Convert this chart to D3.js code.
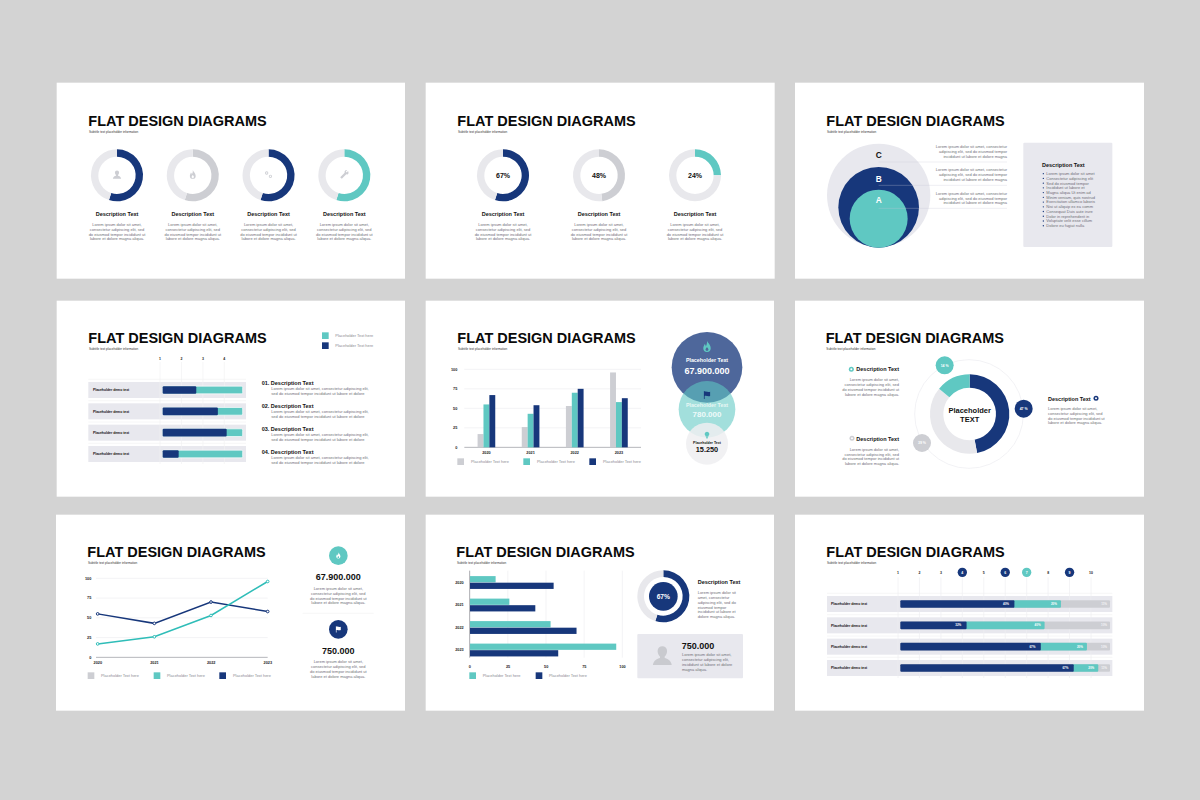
<!DOCTYPE html>
<html><head><meta charset="utf-8">
<script src="https://cdn.jsdelivr.net/npm/d3@7"></script>
<style>html,body{margin:0;padding:0;background:#d3d3d3}svg{display:block}text{font-family:"Liberation Sans",Arial,sans-serif}</style>
</head><body><svg id="c" width="1200" height="800"></svg>
<script>
// ---------- data ----------
const years = ["2020","2021","2022","2023"];
const seriesGray = [17,26,53,96];
const seriesTeal = [55,43,70,58];
const seriesNavy = [67,54,75,63];
const lineTeal = [17,26,53,96];
const lineNavy = [55,43,70,58];
const hbarTeal = [17,26,53,96];
const hbarNavy = [55,43,70,58];
const valueTicks = [0,25,50,75,100];
const iconDonutValues = [55,55,55,55];
const pctDonutValues = [55,48,25];
const pctDonutLabels = ["67%","48%","24%"];
const stackA = [42,69,80,20];
const stackLabels = ["Placeholder demo text","Placeholder demo text","Placeholder demo text","Placeholder demo text"];
const rankTicks = [1,2,3,4];
const timelineTicks = [1,2,3,4,5,6,7,8,9,10];
const timelineNavy = [4,6,9];
const timelineTeal = [7];
const tlNavy = [54.4,31.6,67,82.7];
const tlTeal = [22.2,37.2,22,11.7];
const tlGray = [23.4,31.2,11,5.6];
const tlNavyText = ["40%","32%","67%","67%"];
const tlTealText = ["20%","40%","20%","20%"];
const tlGrayText = ["11%","10%","10%","11%"];
const ringValues = [47,39,14];
const ringLabels = ["47 %","39 %","14 %"];
const bulletItems = ["Lorem ipsum dolor sit amet","Consectetur adipiscing elit","Sed do eiusmod tempor","Incididunt ut labore et","Magna aliqua Ut enim ad","Minim veniam, quis nostrud","Exercitation ullamco laboris","Nisi ut aliquip ex ea comm","Consequat Duis aute irure","Dolor in reprehenderit in","Voluptate velit esse cillum","Dolore eu fugiat nulla"];
const para4 = ["Lorem ipsum dolor sit amet,","consectetur adipiscing elit, sed","do eiusmod tempor incididunt ut","labore et dolore magna aliqua."];
const para3 = ["Lorem ipsum dolor sit amet, consectetur","adipiscing elit, sed do eiusmod tempor","incididunt ut labore et dolore magna"];
const para2 = ["Lorem ipsum dolor sit amet, consectetur adipiscing elit,","sed do eiusmod tempor incididunt ut labore et dolore"];
const para6 = ["Lorem ipsum dolor sit","amet, consectetur","adipiscing elit, sed do","eiusmod tempor","incididunt ut labore et","dolore magna aliqua."];
const para4b = ["Lorem ipsum dolor sit amet,","consectetur adipiscing elit,","incididunt ut labore et dolore","magna aliqua."];
const TITLE = "FLAT DESIGN DIAGRAMS", SUB = "Subtitle text placeholder information", DESC = "Description Text", LEG = "Placeholder Text here";

// ---------- style ----------
const NAVY="#17377b",TEAL="#5fc8c2",GRAY="#cdced3",RING="#e8e8ec",BAND="#e8e8ee",TXT="#6f6f78",GRID="#f1f1f3";
const ICON={
 flame:"M12 1c1 4 7 7 7 14a7 7 0 0 1-14 0c0-3 2-5 2.5-8 1.5 1 2.2 2.5 2.2 4.5C11.500 9 12.500 5 12 1zM12 13c-1.600 1.700-2.800 2.800-2.800 4.500a2.800 2.800 0 0 0 5.600 0c0-1.700-1.200-2.800-2.800-4.500z",
 flag:"M4 2h2v1.500c4-2 8 2 14 0v11c-6 2-10-2-14 0V22H4z",
 bulb:"M12 2a7 7 0 0 1 4 12.700V17H8v-2.300A7 7 0 0 1 12 2zM9 18h6v2H9zM10 21h4v1.500h-4z",
 user:"M12 2a5 5 0 0 1 5 5c0 3-1.500 5-2.500 6v1.500c3 1 6.500 2 7.500 7.500H2c1-5.500 4.500-6.500 7.500-7.500V13C8.500 12 7 10 7 7a5 5 0 0 1 5-5z",
 gears:"M7.500 4a4 4 0 1 1 0 8a4 4 0 1 1 0-8zM7.500 6a2 2 0 1 0 0 4a2 2 0 1 0 0-4zM16.500 12a4 4 0 1 1 0 8a4 4 0 1 1 0-8zM16.500 14a2 2 0 1 0 0 4a2 2 0 1 0 0-4z",
 wrench:"M21 3l-3.500 3.500-2-2L19 1c-3-1-6.500 1-6.500 4.500 0 .8.100 1.300.300 1.800L2 18l4 4L16.700 11.200c.5.200 1 .300 1.800.300C22 11.500 23 7 21 3z"
};
const svg=d3.select("#c");
svg.append("rect").attr("width",1200).attr("height",800).attr("fill","#d3d3d3");

function panel(ox,oy,x0,y0,x1,y1,tx,ty){
  const g=svg.append("g").attr("transform",`translate(${ox},${oy}) scale(${1/3})`);
  g.append("rect").attr("x",x0).attr("y",y0).attr("width",x1-x0).attr("height",y1-y0).attr("fill","#fff");
  txt(g,tx,ty,TITLE,{size:45,weight:"bold",fill:"#0a0a0a",base:true}).attr("textLength",535).attr("lengthAdjust","spacingAndGlyphs");
  txt(g,tx+2,ty+18,SUB,{size:9.300,fill:"#333"});
  return g;
}
function txt(g,x,y,s,o={}){
  const t=g.append("text").attr("x",x).attr("y",y).text(s)
   .attr("font-size",o.size||12).attr("fill",o.fill||TXT)
   .attr("text-anchor",o.anchor||"start").attr("font-weight",o.weight||"normal");
  if(!o.base) t.attr("dy",".35em");
  if(o.opacity) t.attr("opacity",o.opacity);
  return t;
}
function para(g,x,y,lines,anchor,step=14.300,size){
  lines.forEach((l,i)=>txt(g,x,y+i*step,l,{anchor,size}));
}
function head(g,x,y,s,anchor){return txt(g,x,y,s,{size:16.500,weight:"bold",fill:"#111",anchor});}
function icon(g,name,cx,cy,size,fill){
  const k=size/24;
  g.append("path").attr("d",ICON[name]).attr("fill",fill).attr("fill-rule","evenodd")
   .attr("transform",`translate(${cx-size/2},${cy-size/2}) scale(${k})`);
}
function ring(g,cx,cy,values,colors,r0,r1){
  const pie=d3.pie().sort(null).value(d=>d);
  const arc=d3.arc().innerRadius(r0).outerRadius(r1);
  g.append("g").attr("transform",`translate(${cx},${cy})`).selectAll("path").data(pie(values)).join("path")
   .attr("d",arc).attr("fill",(d,i)=>colors[i]);
}
function legend(g,items){
  items.forEach(it=>{
    g.append("rect").attr("x",it.x).attr("y",it.y).attr("width",20).attr("height",20).attr("fill",it.c);
    txt(g,it.x+it.dx,it.y+10.500,LEG,{size:11.800,fill:"#8a8a92"});
  });
}
function styleAxis(a,size=11.500){
  a.select(".domain").remove();
  a.selectAll(".tick line").remove();
  a.selectAll("text").attr("font-size",size).attr("font-weight","bold").attr("fill","#222").attr("font-family",'"Liberation Sans"');
}

// ---------- panel 1 ----------
{
 const g=panel(56,82,2,2,1047,590,97,131);
 const cx=d3.scalePoint().domain(d3.range(4)).range([183,865]);
 const cols=[NAVY,GRAY,NAVY,TEAL], ics=["user","flame","gears","wrench"];
 iconDonutValues.forEach((v,i)=>{
  ring(g,cx(i),280,[v,100-v],[cols[i],RING],56,78);
  icon(g,ics[i],cx(i),278,30,GRAY);
  txt(g,cx(i),397,DESC,{size:16.500,weight:"bold",fill:"#111",anchor:"middle"});
  para(g,cx(i),428,para4,"middle");
 });
}
// ---------- panel 2 ----------
{
 const g=panel(425,82,2,2,1049,590,97,131);
 const cx=d3.scalePoint().domain(d3.range(3)).range([234,810]);
 const cols=[NAVY,GRAY,TEAL];
 pctDonutValues.forEach((v,i)=>{
  ring(g,cx(i),280,[v,100-v],[cols[i],RING],56,78);
  txt(g,cx(i),280,pctDonutLabels[i],{size:21,weight:"bold",fill:"#111",anchor:"middle"});
  txt(g,cx(i),397,DESC,{size:16.500,weight:"bold",fill:"#111",anchor:"middle"});
  para(g,cx(i),428,para4,"middle");
 });
}
// ---------- panel 3 ----------
{
 const g=panel(795,82,0,2,1047,590,94,131);
 [[340,155,BAND],[376,121,NAVY],[410,87,TEAL]].forEach(c=>
  g.append("circle").attr("cx",251).attr("cy",c[0]).attr("r",c[1]).attr("fill",c[2]));
 [["C",220,"#111"],["B",292,"#fff"],["A",355,"#fff"]].forEach(l=>
  txt(g,251,l[1],l[0],{size:25,weight:"bold",fill:l[2],anchor:"middle"}));
 [[240,194],[310,264],[379,334]].forEach(r=>{
  g.append("line").attr("x1",251).attr("x2",636).attr("y1",r[0]).attr("y2",r[0]).attr("stroke","#c8c8d6").attr("stroke-opacity",.45).attr("stroke-width",2);
  para(g,636,r[1],para3,"end");
 });
 g.append("rect").attr("x",685).attr("y",182).attr("width",267).attr("height",313).attr("rx",3).attr("fill",BAND);
 head(g,741,248,DESC);
 bulletItems.forEach((s,i)=>{
  g.append("circle").attr("cx",745).attr("cy",275+i*14.200).attr("r",2).attr("fill",NAVY);
  txt(g,754,275+i*14.200,s);
 });
}
// ---------- panel 4 ----------
{
 const g=panel(56,300,2,2,1047,590,97,130);
 legend(g,[{x:798,y:97,c:TEAL,dx:40},{x:798,y:127,c:NAVY,dx:40}]);
 const y=d3.scaleBand().domain(d3.range(4)).range([238,494]).paddingInner(.25).paddingOuter(.125);
 const xr=d3.scaleLinear().domain([1,4]).range([312,505]);
 const x=d3.scaleLinear().domain([0,100]).range([320,560]);
 y.domain().forEach(i=>{
  g.append("line").attr("x1",97).attr("x2",570).attr("y1",y(i)-8).attr("y2",y(i)-8).attr("stroke",GRID).attr("stroke-width",2);
  g.append("rect").attr("x",97).attr("y",y(i)).attr("width",473).attr("height",y.bandwidth()).attr("fill",BAND);
 });
 rankTicks.forEach(t=>{
  g.append("line").attr("x1",xr(t)).attr("x2",xr(t)).attr("y1",186).attr("y2",492).attr("stroke",GRID).attr("stroke-width",2);
  txt(g,xr(t),175,t,{size:10.500,weight:"bold",fill:"#222",anchor:"middle"});
 });
 stackA.forEach((v,i)=>{
  const by=y(i)+y.bandwidth()/2-11.500;
  g.append("rect").attr("x",x(0)).attr("y",by).attr("width",x(100)-x(0)).attr("height",23).attr("rx",4).attr("fill",TEAL).attr("stroke","#fff").attr("stroke-width",2);
  g.append("rect").attr("x",x(0)).attr("y",by).attr("width",x(v)-x(0)).attr("height",23).attr("rx",3).attr("fill",NAVY);
  txt(g,111,y(i)+y.bandwidth()/2,stackLabels[i],{size:10.200,weight:"bold",fill:"#111"});
  const hy=249+i*69.300;
  head(g,617,hy,"0"+(i+1)+". "+DESC);
  para(g,646,hy+17,para2,"start");
 });
}
// ---------- panel 5 ----------
{
 const g=panel(425,300,2,2,1047,590,97,130);
 const y=d3.scaleLinear().domain([0,100]).range([442,208]);
 const x=d3.scaleBand().domain(years).range([118,648]).paddingInner(.6).paddingOuter(.3);
 const x1=d3.scaleBand().domain(["gray","teal","navy"]).range([0,x.bandwidth()]);
 valueTicks.forEach(t=>g.append("line").attr("x1",118).attr("x2",648).attr("y1",y(t)).attr("y2",y(t)).attr("stroke",t?GRID:"#b5b6bb").attr("stroke-width",t?2.500:3));
 [["gray",seriesGray,GRAY],["teal",seriesTeal,TEAL],["navy",seriesNavy,NAVY]].forEach(s=>{
  g.selectAll(null).data(s[1]).join("rect").attr("x",(d,i)=>x(years[i])+x1(s[0])).attr("y",d=>y(d))
   .attr("width",x1.bandwidth()).attr("height",d=>y(0)-y(d)).attr("fill",s[2]);
 });
 g.append("g").attr("transform","translate(106,0)").call(d3.axisLeft(y).tickValues(valueTicks)).call(a=>styleAxis(a));
 g.append("g").attr("transform","translate(0,444)").call(d3.axisBottom(x)).call(a=>styleAxis(a));
 legend(g,[{x:97,y:475,c:GRAY,dx:41},{x:295,y:475,c:TEAL,dx:41},{x:493,y:475,c:NAVY,dx:41}]);
 const bub=[[202,106,NAVY,.76],[328,85,TEAL,.58],[431,63,"#eeeef1",.85]];
 bub.forEach(b=>g.append("circle").attr("cx",846).attr("cy",b[0]).attr("r",b[1]).attr("fill",b[2]).attr("fill-opacity",b[3]));
 icon(g,"flame",846,140,38,TEAL);
 icon(g,"flag",846,285,28,NAVY);
 icon(g,"bulb",846,405,24,TEAL);
 txt(g,846,181,"Placeholder Text",{size:16,weight:"bold",fill:"#fff",anchor:"middle"});
 txt(g,846,213,"67.900.000",{size:27,weight:"bold",fill:"#fff",anchor:"middle"});
 txt(g,846,315,"Placeholder Text",{size:16,weight:"bold",fill:"#e8f7f5",anchor:"middle"});
 txt(g,846,343,"780.000",{size:24,weight:"bold",fill:"#eefafa",anchor:"middle"});
 txt(g,846,427,"Placeholder Text",{size:10.500,weight:"bold",fill:"#111",anchor:"middle"});
 txt(g,846,449,"15.250",{size:22,weight:"bold",fill:"#111",anchor:"middle"});
}
// ---------- panel 6 ----------
{
 const g=panel(795,300,0,2,1047,590,92,129);
 g.append("circle").attr("cx",522).attr("cy",342).attr("r",163).attr("fill","none").attr("stroke","#ececf0").attr("stroke-width",2);
 ring(g,524,342,ringValues,[NAVY,RING,TEAL],79,119);
 const bubbles=[[686,326,NAVY,0],[381,429,GRAY,1],[449,196,TEAL,2]];
 bubbles.forEach(b=>{
  g.append("circle").attr("cx",b[0]).attr("cy",b[1]).attr("r",27).attr("fill",b[2]);
  txt(g,b[0],b[1],ringLabels[b[3]],{size:10.500,weight:"bold",fill:"#fff",anchor:"middle"});
 });
 txt(g,524,332,"Placeholder",{size:22.500,weight:"bold",fill:"#111",anchor:"middle"});
 txt(g,524,357,"TEXT",{size:22.500,weight:"bold",fill:"#111",anchor:"middle"});
 head(g,312,208,DESC,"end"); para(g,312,240,para4,"end");
 head(g,312,416,DESC,"end"); para(g,312,448,para4,"end");
 head(g,759,296,DESC); para(g,759,326,para4,"start");
 [[169,208,TEAL],[171,415,GRAY],[903,295,NAVY]].forEach(b=>{
  g.append("circle").attr("cx",b[0]).attr("cy",b[1]).attr("r",7.500).attr("fill",b[2]);
  g.append("circle").attr("cx",b[0]).attr("cy",b[1]).attr("r",3).attr("fill","#fff");
 });
}
// ---------- panel 7 ----------
{
 const g=panel(56,514,0,2,1047,590,94,130);
 const y=d3.scaleLinear().domain([0,100]).range([430,193]);
 const x=d3.scalePoint().domain(years).range([125,635]);
 valueTicks.forEach(t=>g.append("line").attr("x1",120).attr("x2",635).attr("y1",y(t)).attr("y2",y(t)).attr("stroke",t?GRID:"#b5b6bb").attr("stroke-width",t?2.500:3));
 const line=d3.line().x((d,i)=>x(years[i])).y(d=>y(d));
 [[lineNavy,NAVY],[lineTeal,"#2fbdb8"]].forEach(s=>{
  g.append("path").attr("d",line(s[0])).attr("fill","none").attr("stroke",s[1]).attr("stroke-width",4.500);
  g.selectAll(null).data(s[0]).join("circle").attr("cx",(d,i)=>x(years[i])).attr("cy",d=>y(d)).attr("r",4).attr("fill","#fff").attr("stroke",s[1]).attr("stroke-width",3);
 });
 g.append("g").attr("transform","translate(115,0)").call(d3.axisLeft(y).tickValues(valueTicks)).call(a=>styleAxis(a));
 g.append("g").attr("transform","translate(0,432)").call(d3.axisBottom(x)).call(a=>styleAxis(a));
 legend(g,[{x:95,y:475,c:GRAY,dx:40},{x:293,y:475,c:TEAL,dx:40},{x:490,y:475,c:NAVY,dx:41}]);
 g.append("circle").attr("cx",847).attr("cy",125).attr("r",28).attr("fill",TEAL);
 icon(g,"flame",847,125,22,"#fff");
 txt(g,847,189,"67.900.000",{size:27,weight:"bold",fill:"#111",anchor:"middle"});
 para(g,847,224,para4,"middle");
 g.append("line").attr("x1",740).attr("x2",953).attr("y1",298).attr("y2",298).attr("stroke",GRID).attr("stroke-width",2);
 g.append("circle").attr("cx",847).attr("cy",346).attr("r",28).attr("fill",NAVY);
 icon(g,"flag",847,346,22,"#fff");
 txt(g,847,410,"750.000",{size:27,weight:"bold",fill:"#111",anchor:"middle"});
 para(g,847,444,para4,"middle");
}
// ---------- panel 8 ----------
{
 const g=panel(425,514,2,2,1047,590,94,130);
 const x=d3.scaleLinear().domain([0,100]).range([134,592]);
 const y=d3.scaleBand().domain(years).range([172.300,442.300]).paddingInner(.415).paddingOuter(.2075);
 const y1=d3.scaleBand().domain(["teal","navy"]).range([0,y.bandwidth()]);
 valueTicks.forEach(t=>g.append("line").attr("x1",x(t)).attr("x2",x(t)).attr("y1",170).attr("y2",431).attr("stroke",t?GRID:"#9a9ba0").attr("stroke-width",t?2.500:2.500));
 [["teal",hbarTeal,TEAL],["navy",hbarNavy,NAVY]].forEach(s=>{
  g.selectAll(null).data(s[1]).join("rect").attr("x",x(0)+1).attr("y",(d,i)=>y(years[i])+y1(s[0]))
   .attr("width",d=>x(d)-x(0)-1).attr("height",y1.bandwidth()-1).attr("fill",s[2]);
 });
 g.append("g").attr("transform","translate(125,0)").call(d3.axisLeft(y)).call(a=>styleAxis(a));
 g.append("g").attr("transform","translate(0,446)").call(d3.axisBottom(x).tickValues(valueTicks)).call(a=>styleAxis(a));
 legend(g,[{x:133,y:475,c:TEAL,dx:40},{x:332,y:475,c:NAVY,dx:40}]);
 ring(g,715,247,[55,45],[NAVY,RING],58,78);
 g.append("circle").attr("cx",715).attr("cy",247).attr("r",43).attr("fill",NAVY);
 txt(g,715,247,"67%",{size:20,weight:"bold",fill:"#fff",anchor:"middle"});
 head(g,818,203,DESC);
 para(g,818,237,para6,"start");
 g.append("rect").attr("x",637).attr("y",360).attr("width",317).attr("height",133).attr("rx",3).attr("fill",BAND);
 icon(g,"user",712,425,68,"#c9cacf");
 txt(g,770,395,"750.000",{size:27,weight:"bold",fill:"#111"});
 para(g,771,423,para4b,"start");
}
// ---------- panel 9 ----------
{
 const g=panel(795,514,0,2,1047,590,94,130);
 const y=d3.scaleBand().domain(d3.range(4)).range([238,494]).paddingInner(.25).paddingOuter(.125);
 const xt=d3.scaleLinear().domain([1,10]).range([309,888]);
 const x=d3.scaleLinear().domain([0,100]).range([316,945]);
 y.domain().forEach(i=>{
  g.append("line").attr("x1",96).attr("x2",952).attr("y1",y(i)-8).attr("y2",y(i)-8).attr("stroke",GRID).attr("stroke-width",2);
  g.append("rect").attr("x",96).attr("y",y(i)).attr("width",856).attr("height",y.bandwidth()).attr("fill",BAND);
 });
 timelineTicks.forEach(t=>{
  g.append("line").attr("x1",xt(t)).attr("x2",xt(t)).attr("y1",190).attr("y2",492).attr("stroke","#eeeef2").attr("stroke-width",2);
  const n=timelineNavy.includes(t),c=timelineTeal.includes(t);
  if(n||c) g.append("circle").attr("cx",xt(t)).attr("cy",175).attr("r",14).attr("fill",n?NAVY:TEAL);
  txt(g,xt(t),175,t,{size:10.500,weight:"bold",fill:(n||c)?"#fff":"#222",anchor:"middle"});
 });
 tlNavy.forEach((v,i)=>{
  const by=y(i)+y.bandwidth()/2-11.500;
  const a=tlNavy[i],b=a+tlTeal[i],c=b+tlGray[i];
  g.append("rect").attr("x",x(0)).attr("y",by).attr("width",x(c)-x(0)).attr("height",23).attr("rx",3).attr("fill",GRAY);
  g.append("rect").attr("x",x(a)-4).attr("y",by).attr("width",x(b)-x(a)+4).attr("height",23).attr("rx",3).attr("fill",TEAL);
  g.append("rect").attr("x",x(0)).attr("y",by).attr("width",x(a)-x(0)).attr("height",23).attr("rx",3).attr("fill",NAVY);
  txt(g,108,y(i)+y.bandwidth()/2,stackLabels[i],{size:10.200,weight:"bold",fill:"#111"});
  const cy=y(i)+y.bandwidth()/2;
  txt(g,x(a)-16,cy,tlNavyText[i],{size:9,weight:"bold",fill:"#fff",anchor:"end"});
  txt(g,x(b)-12,cy,tlTealText[i],{size:9,weight:"bold",fill:"#fff",anchor:"end"});
  txt(g,x(c)-9,cy,tlGrayText[i],{size:9,weight:"bold",fill:"#f4f4f6",anchor:"end"});
 });
}
</script></body></html>
